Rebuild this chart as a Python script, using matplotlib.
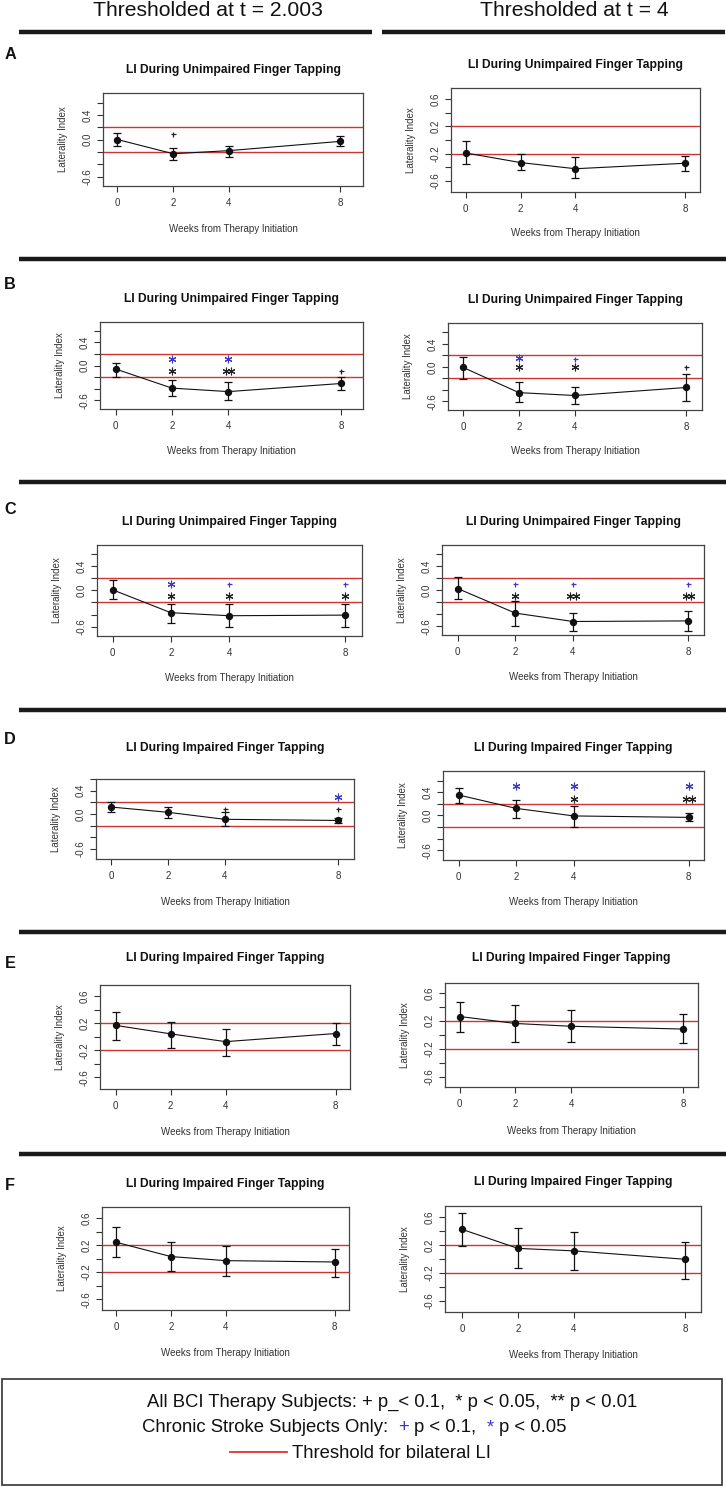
import numpy as np
import matplotlib.pyplot as plt
from matplotlib.transforms import offset_copy
from matplotlib.font_manager import FontProperties

plt.rcParams['font.family'] = ['Liberation Sans', 'DejaVu Sans']

W, H = 726, 1487

weeks = [0, 2, 4, 8]
y_ticks = [-0.6, -0.4, -0.2, 0.0, 0.2, 0.4, 0.6]
bilateral = 0.2

column_heads = ['Thresholded at t = 2.003', 'Thresholded at t = 4']
panel_letters = ['A', 'B', 'C', 'D', 'E', 'F']
panel_titles = ['LI During Unimpaired Finger Tapping'] * 6 + ['LI During Impaired Finger Tapping'] * 6

# panels in reading order: A-left, A-right, B-left, ... F-right
li_mean = [
    [0.00, -0.23, -0.18, -0.03],
    [-0.19, -0.33, -0.42, -0.34],
    [-0.06, -0.39, -0.45, -0.31],
    [-0.01, -0.45, -0.50, -0.36],
    [0.01, -0.37, -0.42, -0.41],
    [0.03, -0.38, -0.52, -0.51],
    [0.12, 0.03, -0.09, -0.11],
    [0.35, 0.12, -0.01, -0.035],
    [0.17, 0.045, -0.07, 0.05],
    [0.26, 0.16, 0.12, 0.08],
    [0.24, 0.03, -0.03, -0.05],
    [0.42, 0.15, 0.115, -0.005],
]
li_upper = [
    [0.10, -0.13, -0.10, 0.06],
    [-0.02, -0.21, -0.25, -0.24],
    [0.04, -0.25, -0.29, -0.19],
    [0.17, -0.27, -0.36, -0.12],
    [0.17, -0.22, -0.23, -0.23],
    [0.23, -0.17, -0.37, -0.34],
    [0.21, 0.12, 0.03, -0.06],
    [0.47, 0.27, 0.165, 0.045],
    [0.37, 0.225, 0.12, 0.21],
    [0.47, 0.42, 0.35, 0.29],
    [0.47, 0.25, 0.19, 0.14],
    [0.66, 0.445, 0.39, 0.245],
]
li_lower = [
    [-0.10, -0.33, -0.28, -0.10],
    [-0.35, -0.44, -0.56, -0.46],
    [-0.19, -0.53, -0.60, -0.42],
    [-0.21, -0.62, -0.65, -0.60],
    [-0.15, -0.54, -0.61, -0.60],
    [-0.15, -0.60, -0.68, -0.67],
    [0.03, -0.07, -0.20, -0.16],
    [0.22, -0.04, -0.195, -0.10],
    [-0.045, -0.16, -0.285, -0.12],
    [0.04, -0.11, -0.11, -0.115],
    [0.02, -0.19, -0.255, -0.265],
    [0.19, -0.135, -0.16, -0.28],
]

# significance marks: (week, y, symbol, group)
sig_marks = [
    [(2, 0.09, '+', 'all')],
    [],
    [(2, 0.11, '*', 'chronic'), (2, -0.09, '*', 'all'), (4, 0.11, '*', 'chronic'),
     (4, -0.09, '**', 'all'), (8, -0.10, '+', 'all')],
    [(2, 0.16, '*', 'chronic'), (2, 0.0, '*', 'all'), (4, 0.14, '+', 'chronic'),
     (4, 0.0, '*', 'all'), (8, 0.0, '+', 'all')],
    [(2, 0.10, '*', 'chronic'), (2, -0.10, '*', 'all'), (4, 0.10, '+', 'chronic'),
     (4, -0.10, '*', 'all'), (8, 0.10, '+', 'chronic'), (8, -0.10, '*', 'all')],
    [(2, 0.10, '+', 'chronic'), (2, -0.10, '*', 'all'), (4, 0.10, '+', 'chronic'),
     (4, -0.10, '**', 'all'), (8, 0.10, '+', 'chronic'), (8, -0.10, '**', 'all')],
    [(4, 0.09, '+', 'all'), (8, 0.29, '*', 'chronic'), (8, 0.09, '+', 'all')],
    [(2, 0.50, '*', 'chronic'), (4, 0.50, '*', 'chronic'), (4, 0.29, '*', 'all'),
     (8, 0.50, '*', 'chronic'), (8, 0.29, '**', 'all')],
    [], [], [], [],
]

short_labels = [0.4, 0.0, -0.6]
long_labels = [0.6, 0.2, -0.2, -0.6]
shown_ylabels = [short_labels, long_labels] + [short_labels] * 6 + [long_labels] * 4

legend_all = 'All BCI Therapy Subjects: + p_< 0.1,  * p < 0.05,  ** p < 0.01'
legend_chronic = [('Chronic Stroke Subjects Only:', 'black'), ('  +', 'blue'),
                  (' p < 0.1,', 'black'), ('  *', 'blue'), (' p < 0.05', 'black')]
legend_line = 'Threshold for bilateral LI'

# pixel box (left, top, right, bottom), xlim, ylim, title y, xlabel y
layout = [
    (103, 93, 363, 186, -0.52, 8.82, -0.753, 0.754, 70, 229),
    (451, 88, 700, 192, -0.54, 8.55, -0.76, 0.76, 65, 233),
    (100, 322, 363, 409, -0.55, 8.77, -0.75, 0.75, 299, 451),
    (448, 323, 702, 410, -0.54, 8.56, -0.753, 0.765, 300, 451),
    (97, 545, 362, 636, -0.54, 8.57, -0.757, 0.755, 522, 678),
    (442, 545, 704, 635, -0.54, 8.54, -0.745, 0.755, 522, 677),
    (96, 779, 354, 859, -0.53, 8.56, -0.77, 0.60, 748, 902),
    (443, 771, 704, 860, -0.55, 8.53, -0.77, 0.765, 748, 902),
    (100, 985, 350, 1089, -0.57, 8.52, -0.77, 0.767, 958, 1132),
    (445, 983, 698, 1087, -0.52, 8.53, -0.75, 0.74, 958, 1131),
    (102, 1207, 349, 1310, -0.53, 8.53, -0.76, 0.763, 1184, 1353),
    (445, 1206, 701, 1312, -0.62, 8.57, -0.756, 0.754, 1182, 1355),
]

red = '#cc3535'
blue = '#3a3ac4'
dark = '#222222'

fig = plt.figure(figsize=(W / 100, H / 100), dpi=100)
bg = fig.add_axes([0, 0, 1, 1])
bg.set_xlim(0, W)
bg.set_ylim(H, 0)
bg.axis('off')

# column headings and separator bars
bg.text(208, 16, column_heads[0], fontsize=15.2, ha='center', va='baseline', color='#111')
bg.text(574, 16, column_heads[1], fontsize=15.2, ha='center', va='baseline', color='#111')
bar = dict(color='#1a1a1a', lw=3.2, solid_capstyle='butt')
bg.plot([19, 372], [32, 32], **bar)
bg.plot([382, 725], [32, 32], **bar)
for y in [259, 482, 710, 932, 1154]:
    bg.plot([19, 726], [y, y], **bar)

letter_y = [59, 289, 514, 744, 968, 1190]
for lt, y in zip(panel_letters, letter_y):
    bg.text(10, y, lt, fontsize=11.7, fontweight='bold', ha='center', va='baseline', color='#111')

for i, (l, t, r, b, x0, x1, y0, y1, ty, ly) in enumerate(layout):
    ax = fig.add_axes([l / W, 1 - b / H, (r - l) / W, (b - t) / H])
    ax.set_facecolor('none')
    ax.set_xlim(x0, x1)
    ax.set_ylim(y0, y1)

    ax.axhline(bilateral, color=red, lw=1.0, zorder=1)
    ax.axhline(-bilateral, color=red, lw=1.0, zorder=1)

    mean = np.array(li_mean[i])
    upper = np.array(li_upper[i])
    lower = np.array(li_lower[i])
    ax.errorbar(weeks, mean, yerr=[mean - lower, upper - mean], fmt='-o', color='#111',
                ms=4.3, lw=0.8, elinewidth=0.9, capsize=3.2, capthick=0.9, zorder=3)

    for wk, yv, sym, grp in sig_marks[i]:
        col = blue if grp == 'chronic' else dark
        if sym == '+':
            ax.plot(wk, yv, marker='+', ms=3.6, mew=0.9, color=col, ls='none', zorder=4)
        else:
            n = len(sym)
            for k in range(n):
                dx = (k - (n - 1) / 2) * 5.7
                tr = offset_copy(ax.transData, fig=fig, x=dx, y=0, units='dots')
                ax.plot(wk, yv, marker=(6, 2, 0), ms=5.5, mew=0.8, color=col, ls='none',
                        transform=tr, zorder=4)

    ax.set_xticks(weeks)
    ax.set_xticklabels([str(w) for w in weeks])
    ticks = [v for v in y_ticks if y0 - 1e-6 <= v <= y1 + 1e-6]
    ax.set_yticks(ticks)
    ax.set_yticklabels([f'{v:.1f}' if any(abs(v - s) < 1e-6 for s in shown_ylabels[i]) else ''
                        for v in ticks])
    ax.tick_params(direction='out', length=4.3, width=0.8, colors='#333', labelsize=7)
    ax.tick_params(axis='x', pad=4.5)
    ax.tick_params(axis='y', labelrotation=90, pad=3.5)
    for lab in ax.get_yticklabels():
        lab.set_va('center')
    for sp in ax.spines.values():
        sp.set_color('#444')
        sp.set_linewidth(0.9)

    cx = (l + r) / 2
    bg.text(cx, ty, panel_titles[i], fontsize=8.7, fontweight='bold', ha='center', va='center', color='#111')
    bg.text(cx, ly, 'Weeks from Therapy Initiation', fontsize=7, ha='center', va='center', color='#333')
    bg.text(l - 40, (t + b) / 2, 'Laterality Index', fontsize=7, rotation=90,
            ha='center', va='center', color='#333')

# legend box
bg.add_patch(plt.Rectangle((1.5, 1379), 720.5, 106, fill=False, ec='#333', lw=1.2))
fs = 13.3
bg.text(146.7, 1407, legend_all, fontsize=fs, va='baseline', color='#111')

# second line: pieces in two colours, laid out as one string
renderer = fig.canvas.get_renderer()
prop = FontProperties(family=['Liberation Sans', 'DejaVu Sans'], size=fs)
x_start = 141.7
prefix = ''
for piece, kind in legend_chronic:
    prefix += piece
    w, _, _ = renderer.get_text_width_height_descent(prefix, prop, ismath=False)
    bg.text(x_start + w, 1432, piece.strip(), fontsize=fs, ha='right', va='baseline',
            color=blue if kind == 'blue' else '#111')

bg.plot([230, 287], [1451.7, 1451.7], color='#e03030', lw=1.3)
bg.text(292, 1458, legend_line, fontsize=fs, va='baseline', color='#111')

fig.savefig('out.png', dpi=100, facecolor='white')
